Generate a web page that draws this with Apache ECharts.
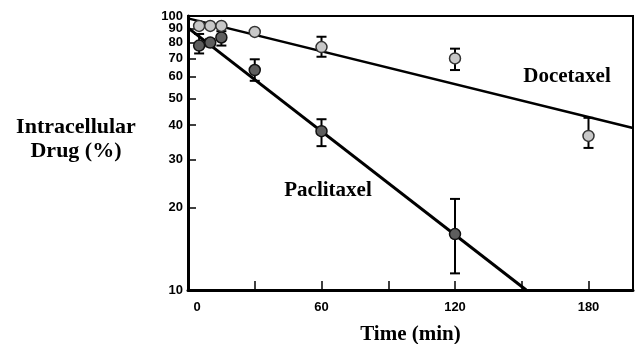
<!DOCTYPE html>
<html>
<head>
<meta charset="utf-8">
<script src="https://cdn.jsdelivr.net/npm/echarts@6/dist/echarts.min.js"></script>
<style>
  html, body { margin: 0; padding: 0; background: #fff; }
  #chart { width: 635px; height: 344px; }
</style>
</head>
<body>
<div id="chart"></div>
<script>
// 数据
const doceTimes = [5, 10, 15, 30, 60, 120, 180];
const doceValues = [92, 92, 92, 87.5, 77, 70, 36.5];
const doceErrLow = [92, 92, 92, 87.5, 71, 63.5, 33];
const doceErrHigh = [92, 92, 92, 87.5, 84, 76, 42.5];

const pacliTimes = [5, 10, 15, 30, 60, 120];
const pacliValues = [78, 80, 83.5, 63.5, 38, 16];
const pacliErrLow = [73, 77.5, 78, 58, 33.5, 11.5];
const pacliErrHigh = [86, 82.5, 88, 69.5, 42, 21.5];

// 拟合直线端点
const doceFit = [[0, 98], [200, 39]];
const pacliFit = [[0, 90.5], [152, 10]];

const xLabels = [0, 60, 120, 180];
const xTicks = [30, 60, 90, 120, 150, 180];
const yLabels = [10, 20, 30, 40, 50, 60, 70, 80, 90];
const yTopLabel = [100];
const yTicks = [20, 30, 40, 50, 60, 70, 80, 90];

const chart = echarts.init(document.getElementById('chart'));

// 误差棒
function errorBar(params, api) {
  const x = api.value(0);
  const lo = api.coord([x, api.value(1)]);
  const hi = api.coord([x, api.value(2)]);
  const w = 5;
  const style = { stroke: '#000', lineWidth: 2 };
  return {
    type: 'group',
    children: [
      { type: 'line', shape: { x1: lo[0], y1: lo[1], x2: hi[0], y2: hi[1] }, style },
      { type: 'line', shape: { x1: lo[0] - w, y1: lo[1], x2: lo[0] + w, y2: lo[1] }, style },
      { type: 'line', shape: { x1: hi[0] - w, y1: hi[1], x2: hi[0] + w, y2: hi[1] }, style }
    ]
  };
}

const zip = (t, a, b) => t.map((v, i) => b ? [v, a[i], b[i]] : [v, a[i]]);

const titleFont = 'bold 22px "Liberation Serif"';
const tickFont = { fontFamily: 'Liberation Sans', fontWeight: 'bold', fontSize: 13, color: '#000' };

const option = {
  animation: false,
  grid: {
    left: 188, top: 16, right: 2, bottom: 54,
    outerBoundsMode: 'none',
    containLabel: false,
    show: true, borderColor: '#000', borderWidth: 2
  },
  xAxis: {
    type: 'value',
    min: 0, max: 200,
    name: 'Time (min)',
    nameLocation: 'middle',
    nameGap: 34,
    nameTextStyle: { fontFamily: 'Liberation Serif', fontWeight: 'bold', fontSize: 21, color: '#000' },
    axisLine: { show: true, lineStyle: { color: '#000', width: 3 } },
    axisTick: { show: true, inside: true, length: 9, customValues: xTicks, lineStyle: { color: '#000', width: 1.5 } },
    axisLabel: {
      customValues: xLabels,
      margin: 11,
      ...tickFont,
      formatter: v => v === 0 ? '{z|0}' : String(v),
      rich: { z: { padding: [0, 0, 0, 18], ...tickFont } }
    },
    splitLine: { show: false }
  },
  yAxis: [
    {
      type: 'log',
      logBase: 10,
      min: 10, max: 100.001,
      axisLine: { show: true, lineStyle: { color: '#000', width: 3 } },
      axisTick: { show: true, inside: true, length: 8, customValues: yTicks, lineStyle: { color: '#000', width: 1.5 } },
      axisLabel: { customValues: yLabels, margin: 5, ...tickFont },
      splitLine: { show: false }
    },
    {
      // 单独放 100 的标签，避免与 90 重叠被隐藏
      type: 'log',
      logBase: 10,
      min: 10, max: 100.001,
      position: 'left',
      offset: 0,
      axisLine: { show: false },
      axisTick: { show: false },
      axisLabel: { customValues: yTopLabel, showMaxLabel: true, margin: 5, ...tickFont },
      splitLine: { show: false }
    }
  ],
  graphic: [
    {
      type: 'text', x: 76, y: 127,
      style: { text: 'Intracellular', align: 'center', verticalAlign: 'middle', font: titleFont, fill: '#000' }
    },
    {
      type: 'text', x: 76, y: 151,
      style: { text: 'Drug (%)', align: 'center', verticalAlign: 'middle', font: titleFont, fill: '#000' }
    },
    {
      type: 'text', x: 567, y: 77,
      style: { text: 'Docetaxel', align: 'center', verticalAlign: 'middle', font: 'bold 21px "Liberation Serif"', fill: '#000' }
    },
    {
      type: 'text', x: 328, y: 191,
      style: { text: 'Paclitaxel', align: 'center', verticalAlign: 'middle', font: 'bold 21px "Liberation Serif"', fill: '#000' }
    }
  ],
  series: [
    {
      name: 'Docetaxel fit', type: 'line', data: doceFit, symbol: 'none',
      lineStyle: { color: '#000', width: 2.5 }, z: 2
    },
    {
      name: 'Paclitaxel fit', type: 'line', data: pacliFit, symbol: 'none',
      lineStyle: { color: '#000', width: 3 }, z: 2
    },
    {
      type: 'custom', renderItem: errorBar, data: zip(doceTimes, doceErrLow, doceErrHigh), z: 3
    },
    {
      type: 'custom', renderItem: errorBar, data: zip(pacliTimes, pacliErrLow, pacliErrHigh), z: 3
    },
    {
      name: 'Paclitaxel', type: 'scatter', data: zip(pacliTimes, pacliValues),
      symbol: 'circle', symbolSize: 11, z: 4,
      itemStyle: { color: '#5e5e5e', borderColor: '#111', borderWidth: 1.5, opacity: 1 }
    },
    {
      name: 'Docetaxel', type: 'scatter', data: zip(doceTimes, doceValues),
      symbol: 'circle', symbolSize: 11, z: 5,
      itemStyle: { color: '#c8c8c8', borderColor: '#333', borderWidth: 1.5, opacity: 1 }
    }
  ]
};

chart.setOption(option);
</script>
</body>
</html>
